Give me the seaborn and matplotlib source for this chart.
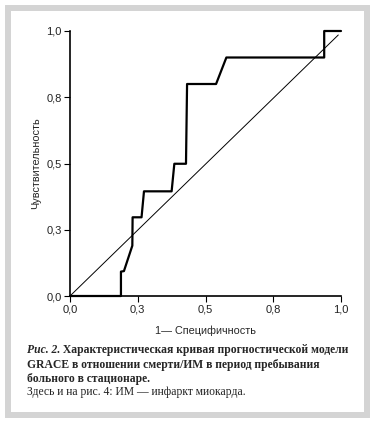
import numpy as np
import pandas as pd
import seaborn as sns
import matplotlib.pyplot as plt
from matplotlib.patches import Rectangle

# ROC curve points (1 - specificity, sensitivity)
fpr = [0.0, 0.188, 0.188, 0.199, 0.230, 0.231, 0.264, 0.273, 0.375, 0.385,
       0.428, 0.432, 0.539, 0.577, 0.938, 0.938, 1.0]
tpr = [0.0, 0.0, 0.092, 0.094, 0.19, 0.297, 0.297, 0.395, 0.395, 0.499,
       0.499, 0.80, 0.80, 0.90, 0.90, 1.0, 1.0]

# reference (chance) line
diag_x = [0.0, 0.99]
diag_y = [0.0, 0.985]

tick_pos = [0.0, 0.25, 0.5, 0.75, 1.0]
tick_labels = ['0,0', '0,3', '0,5', '0,8', '1,0']

ylabel = 'Чувствительность'
xlabel = '1— Специфичность'
caption_head = 'Рис. 2.'
caption_line1 = ' Характеристическая кривая прогностической модели'
caption_line2 = 'GRACE в отношении смерти/ИМ в период пребывания'
caption_line3 = 'больного в стационаре.'
note = 'Здесь и на рис. 4: ИМ — инфаркт миокарда.'

sns.set_style('ticks')
plt.rcParams['font.family'] = ['Liberation Sans', 'DejaVu Sans']

W, H = 374, 426
fig = plt.figure(figsize=(W / 100, H / 100), dpi=100)
ax = fig.add_axes([70 / W, 1 - 296 / H, 271 / W, 265 / H])

roc = pd.DataFrame({'fpr': fpr, 'tpr': tpr})
sns.lineplot(data=roc, x='fpr', y='tpr', sort=False, estimator=None,
             color='black', lw=1.6, ax=ax, clip_on=False)
sns.lineplot(x=diag_x, y=diag_y, estimator=None, color='black', lw=0.7, ax=ax)

ax.set_xlim(0, 1)
ax.set_ylim(0, 1)
ax.set_xticks(tick_pos)
ax.set_xticklabels(tick_labels)
ax.set_yticks(tick_pos)
ax.set_yticklabels(tick_labels)
ax.tick_params(labelsize=8, length=4, width=0.8, color='black', labelcolor='#222222', pad=2)
for s in ['top', 'right']:
    ax.spines[s].set_visible(False)
for s in ['left', 'bottom']:
    ax.spines[s].set_linewidth(1.2)
    ax.spines[s].set_color('black')
ax.set_xlabel(xlabel, fontsize=7.8, labelpad=8)
ax.set_ylabel(ylabel, fontsize=7.8, labelpad=4)

# gray frame around the whole figure
fig.patches.append(Rectangle((8 / W, 1 - 415 / H), 359 / W, 407 / H,
                             transform=fig.transFigure, fill=False,
                             edgecolor='#d4d4d4', lw=4.3))

serif = ['Liberation Serif', 'DejaVu Serif']
fs = 8.4
t1 = fig.text(27 / W, 1 - 353 / H, caption_head, fontsize=fs, family=serif,
              fontweight='bold', fontstyle='italic', va='baseline')
fig.canvas.draw()
ax.annotate(caption_line1, xy=(1, 0), xycoords=t1, fontsize=fs, family=serif,
            fontweight='bold', va='bottom', ha='left', annotation_clip=False)
fig.text(27 / W, 1 - 368 / H, caption_line2, fontsize=fs, family=serif,
         fontweight='bold', va='baseline')
fig.text(27 / W, 1 - 382 / H, caption_line3, fontsize=fs, family=serif,
         fontweight='bold', va='baseline')
fig.text(27 / W, 1 - 395 / H, note, fontsize=fs, family=serif, va='baseline',
         color='#222222')

fig.savefig('out.png', dpi=100)
